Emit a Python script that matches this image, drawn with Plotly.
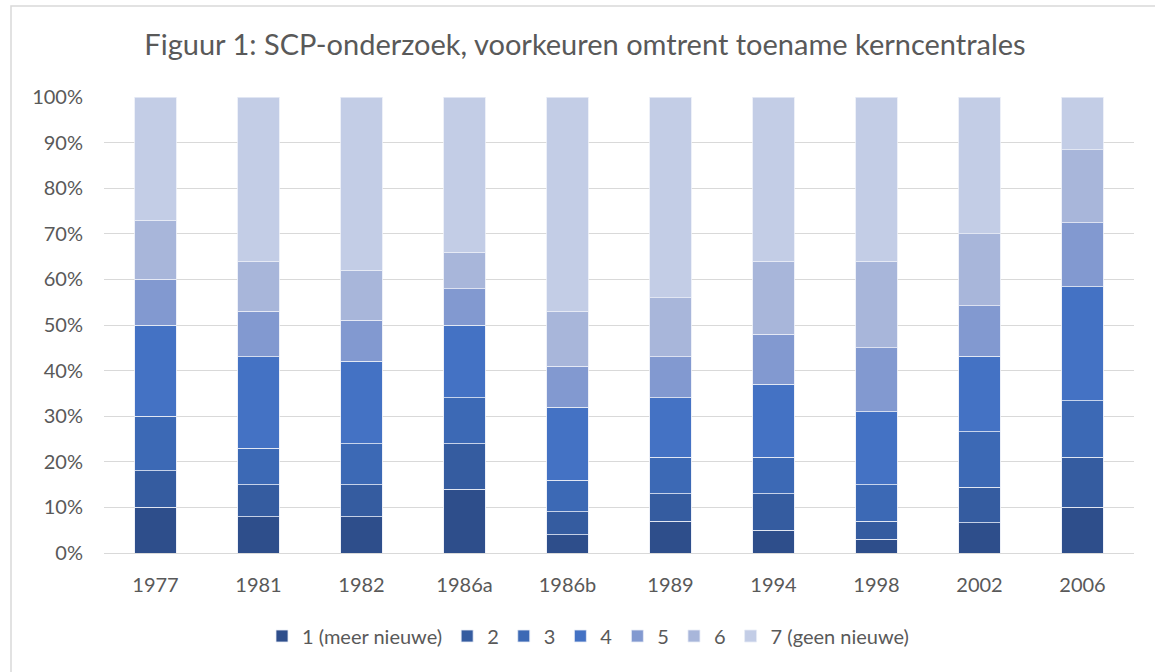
import plotly.graph_objects as go

categories = ["1977", "1981", "1982", "1986a", "1986b", "1989", "1994", "1998", "2002", "2006"]
series_names = ["1 (meer nieuwe)", "2", "3", "4", "5", "6", "7 (geen nieuwe)"]
s1 = [10, 8, 8, 14, 4, 7, 5, 3, 6.6, 10]
s2 = [8, 7, 7, 10, 5, 6, 8, 4, 7.8, 11]
s3 = [12, 8, 9, 10, 7, 8, 8, 8, 12.2, 12.4]
s4 = [20, 20, 18, 16, 16, 13, 16, 16, 16.6, 25]
s5 = [10, 10, 9, 8, 9, 9, 11, 14, 11.0, 14]
s6 = [13, 11, 11, 8, 12, 13, 16, 19, 15.8, 16]
s7 = [27, 36, 38, 34, 47, 44, 36, 36, 30.0, 11.6]
series_values = [s1, s2, s3, s4, s5, s6, s7]
colors = ["#2E4E8B", "#355CA0", "#3C69B5", "#4472C4", "#8299D0", "#A8B6DA", "#C3CDE6"]

FONT = "Lato"
fig = go.Figure()
for name, vals, col in zip(series_names, series_values, colors):
    fig.add_trace(go.Bar(
        x=categories, y=vals, name=name,
        marker=dict(color=col, line=dict(color="#E8ECF6", width=0.8)),
    ))

W, H = 1155, 672
L, R, T, B = 104, 21, 97, 119
PW, PH = W - L - R, H - T - B

fig.update_layout(
    barmode="stack", barnorm="percent",
    width=W, height=H,
    margin=dict(l=L, r=R, t=T, b=B),
    paper_bgcolor="white", plot_bgcolor="white",
    bargap=0.6,
    font=dict(family=FONT, color="#595959", size=20),
    title=dict(text="Figuur 1: SCP-onderzoek, voorkeuren omtrent toename kerncentrales",
               x=585 / W, xanchor="center", y=1 - 45 / H, yanchor="middle",
               font=dict(family=FONT, size=29, color="#595959")),
    legend=dict(orientation="h", x=(588 - L) / PW, xanchor="center",
                y=(553 - 636) / PH, yanchor="middle",
                font=dict(family=FONT, size=20, color="#595959"), traceorder="normal",
                itemwidth=30),
    showlegend=True,
)
fig.update_yaxes(range=[0, 100], tickvals=[0, 10, 20, 30, 40, 50, 60, 70, 80, 90, 100],
                 ticktext=[f"{v}%" for v in range(0, 101, 10)],
                 showgrid=True, gridcolor="#D9D9D9", gridwidth=1, zeroline=False,
                 showline=False, ticks="", ticklabelstandoff=20,
                 tickfont=dict(family=FONT, size=20, color="#595959"))
fig.update_xaxes(showline=True, linecolor="#D9D9D9", linewidth=1, ticks="",
                 ticklabelstandoff=14,
                 tickfont=dict(family=FONT, size=20, color="#595959"))
fig.add_shape(type="rect", xref="paper", yref="paper",
              x0=(11 - L) / PW, x1=(W + 10 - L) / PW,
              y0=(553 - H - 10) / PH, y1=(553 - 6) / PH,
              line=dict(color="#D9D9D9", width=1.5), fillcolor="rgba(0,0,0,0)", layer="below")

fig.write_html("out.html", config={"displayModeBar": False},
               post_script="document.body.style.margin='0';")
